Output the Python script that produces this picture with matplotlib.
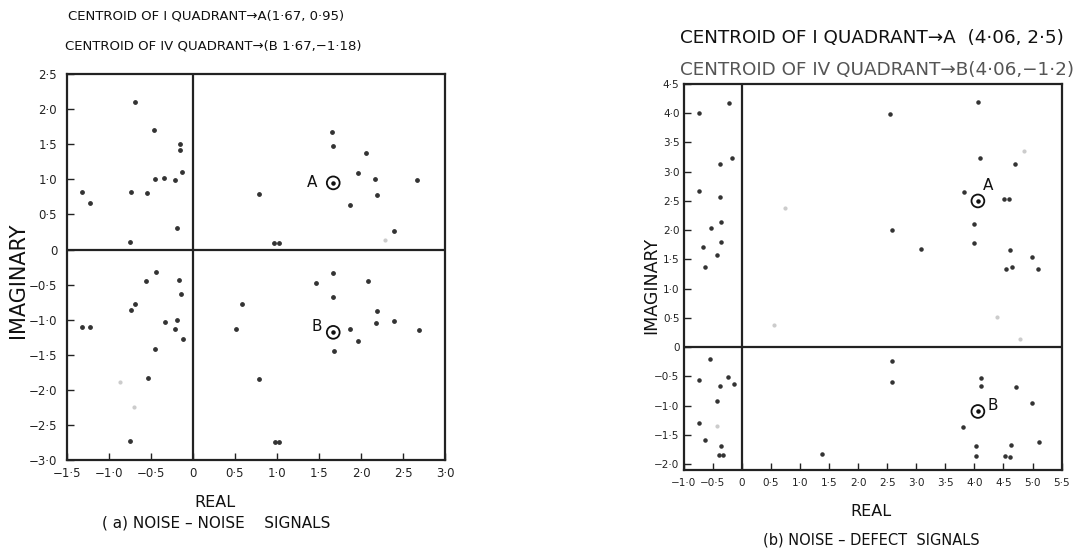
import matplotlib
matplotlib.use("Agg")
import matplotlib.pyplot as plt

plt.rcParams['font.family'] = ['DejaVu Sans']

# ---- (a) noise - noise signals ----
noise_x = [-0.69, -0.46, -0.15, -0.155, -0.13, -0.45, -0.35, -0.21, -1.32, -1.22,
           -0.74, -0.55, -0.19, -0.75, 0.79, 0.96, 1.02,
           1.66, 1.67, 2.06, 1.96, 2.17, 2.67, 2.19, 1.87, 2.39,
           -0.44, -0.56, -0.17, -0.14, -0.69, -0.74, -0.33, -0.19, -0.21, -0.12,
           -1.32, -1.22, -0.45, -0.54, -0.75, 0.58, 0.51, 0.79, 0.98, 1.02,
           1.67, 1.47, 2.08, 1.67, 2.19, 2.18, 2.39, 2.69, 1.87, 1.97, 1.68]
noise_y = [2.10, 1.71, 1.50, 1.42, 1.11, 1.01, 1.02, 0.99, 0.82, 0.66,
           0.82, 0.81, 0.30, 0.11, 0.79, 0.09, 0.09,
           1.68, 1.48, 1.37, 1.09, 1.00, 0.99, 0.78, 0.63, 0.26,
           -0.32, -0.45, -0.44, -0.64, -0.78, -0.86, -1.03, -1.01, -1.13, -1.28,
           -1.11, -1.11, -1.42, -1.83, -2.73, -0.78, -1.13, -1.84, -2.74, -2.74,
           -0.33, -0.47, -0.45, -0.67, -0.87, -1.04, -1.02, -1.14, -1.13, -1.30, -1.44]
noise_faint_x = [2.29, -0.87, -0.70]
noise_faint_y = [0.14, -1.89, -2.24]
noise_cent_x = [1.67, 1.67]
noise_cent_y = [0.95, -1.18]
noise_cent_lbl = ["A", "B"]

# ---- (b) noise - defect signals ----
defect_x = [-0.22, -0.73, -0.16, -0.38, -0.74, -0.38, -0.35, -0.53, -0.35, -0.67, -0.43, -0.64,
            -0.54, -0.73, -0.37, -0.23, -0.14, -0.42, -0.73, -0.64, -0.36, -0.39, -0.33, 1.38,
            4.06, 2.55, 4.09, 4.69, 3.82, 4.51, 4.59, 4.00, 2.58, 3.09, 3.99, 4.61, 4.99,
            4.65, 4.54, 5.09,
            2.59, 2.58, 4.11, 4.11, 4.72, 4.99, 3.81, 4.03, 5.11, 4.63, 4.02, 4.52, 4.62]
defect_y = [4.18, 4.00, 3.24, 3.14, 2.67, 2.57, 2.14, 2.03, 1.80, 1.71, 1.58, 1.37,
            -0.20, -0.57, -0.66, -0.51, -0.63, -0.92, -1.30, -1.59, -1.69, -1.84, -1.84, -1.82,
            4.19, 3.98, 3.24, 3.14, 2.65, 2.54, 2.54, 2.11, 2.01, 1.68, 1.78, 1.66, 1.55,
            1.37, 1.34, 1.34,
            -0.23, -0.60, -0.52, -0.67, -0.69, -0.95, -1.37, -1.69, -1.63, -1.68, -1.87, -1.87, -1.88]
defect_faint_x = [4.85, 4.39, 4.78, 0.74, 0.56, -0.42]
defect_faint_y = [3.35, 0.52, 0.14, 2.38, 0.38, -1.35]
defect_cent_x = [4.06, 4.06]
defect_cent_y = [2.50, -1.10]
defect_cent_lbl = ["A", "B"]


def fmt(v):
    if abs(v) < 1e-9:
        return "0"
    return f"{v:.1f}".replace(".", "\u00b7").replace("-", "\u2212")


def setup_axes(ax, xlim, ylim, xticks, yticks, fs):
    ax.set_xlim(*xlim)
    ax.set_ylim(*ylim)
    ax.set_xticks(xticks)
    ax.set_yticks(yticks)
    ax.set_xticklabels([fmt(v) for v in xticks], fontsize=fs)
    ax.set_yticklabels([fmt(v) for v in yticks], fontsize=fs)
    ax.tick_params(direction="in", length=5, width=1, colors="#222222", pad=5)
    for s in ax.spines.values():
        s.set_linewidth(1.6)
        s.set_color("#222222")
    ax.axhline(0, color="#222222", lw=1.6, zorder=1)
    ax.axvline(0, color="#222222", lw=1.6, zorder=1)


def centroids(ax, xs, ys, lbls, offsets, fs):
    ax.scatter(xs, ys, s=85, facecolors="none", edgecolors="#111111", linewidths=1.3, zorder=4)
    ax.scatter(xs, ys, s=5, color="#111111", zorder=5)
    for x, y, t, off in zip(xs, ys, lbls, offsets):
        ax.annotate(t, (x, y), xytext=off, textcoords="offset points",
                    ha="center", va="center", fontsize=fs, color="#111111")


fig = plt.figure(figsize=(10.8, 5.49), dpi=100)

# left panel
ax1 = fig.add_axes([0.062, 0.162, 0.350, 0.703])
ax1.scatter(noise_x, noise_y, s=6, color="#333333", zorder=3)
ax1.scatter(noise_faint_x, noise_faint_y, s=4, color="#cccccc", zorder=2)
setup_axes(ax1, (-1.5, 3.0), (-3.0, 2.5),
           [-1.5, -1.0, -0.5, 0, 0.5, 1.0, 1.5, 2.0, 2.5, 3.0],
           [-3.0, -2.5, -2.0, -1.5, -1.0, -0.5, 0, 0.5, 1.0, 1.5, 2.0, 2.5], 8.5)
ax1.tick_params(axis="y", pad=7)
centroids(ax1, noise_cent_x, noise_cent_y, noise_cent_lbl, [(-15, 0), (-12, 4)], 11)

# right panel
ax2 = fig.add_axes([0.633, 0.144, 0.350, 0.703])
ax2.scatter(defect_x, defect_y, s=5, color="#333333", zorder=3)
ax2.scatter(defect_faint_x, defect_faint_y, s=4, color="#cccccc", zorder=2)
setup_axes(ax2, (-1.0, 5.5), (-2.1, 4.5),
           [-1.0, -0.5, 0, 0.5, 1.0, 1.5, 2.0, 2.5, 3.0, 3.5, 4.0, 4.5, 5.0, 5.5],
           [-2.0, -1.5, -1.0, -0.5, 0, 0.5, 1.0, 1.5, 2.0, 2.5, 3.0, 3.5, 4.0, 4.5], 7.5)
ax2.tick_params(axis="x", pad=6)
ax2.tick_params(axis="y", pad=3)
centroids(ax2, defect_cent_x, defect_cent_y, defect_cent_lbl, [(7, 11), (11, 4)], 11)

# titles and labels
fig.text(0.063, 0.971, "CENTROID OF I QUADRANT\u2192A(1\u00b767, 0\u00b795)",
         fontsize=9.5, va="center", color="#111111")
fig.text(0.060, 0.916, "CENTROID OF IV QUADRANT\u2192(B 1\u00b767,\u22121\u00b718)",
         fontsize=9.5, va="center", color="#111111")
fig.text(0.630, 0.931, "CENTROID OF I QUADRANT\u2192A  (4\u00b706, 2\u00b75)",
         fontsize=13.2, va="center", color="#111111")
fig.text(0.630, 0.872, "CENTROID OF IV QUADRANT\u2192B(4\u00b706,\u22121\u00b72)",
         fontsize=13.2, va="center", color="#555555")

fig.text(0.017, 0.49, "IMAGINARY", rotation=90, fontsize=15, ha="center", va="center", color="#111111")
fig.text(0.603, 0.48, "IMAGINARY", rotation=90, fontsize=12.5, ha="center", va="center", color="#111111")

fig.text(0.199, 0.084, "REAL", fontsize=11.5, ha="center", va="center", color="#111111")
fig.text(0.806, 0.068, "REAL", fontsize=11.5, ha="center", va="center", color="#111111")
fig.text(0.200, 0.047, "( a) NOISE \u2013 NOISE    SIGNALS", fontsize=11, ha="center", va="center", color="#111111")
fig.text(0.807, 0.016, "(b) NOISE \u2013 DEFECT  SIGNALS", fontsize=10.5, ha="center", va="center", color="#111111")

fig.savefig("out.png", dpi=100)
